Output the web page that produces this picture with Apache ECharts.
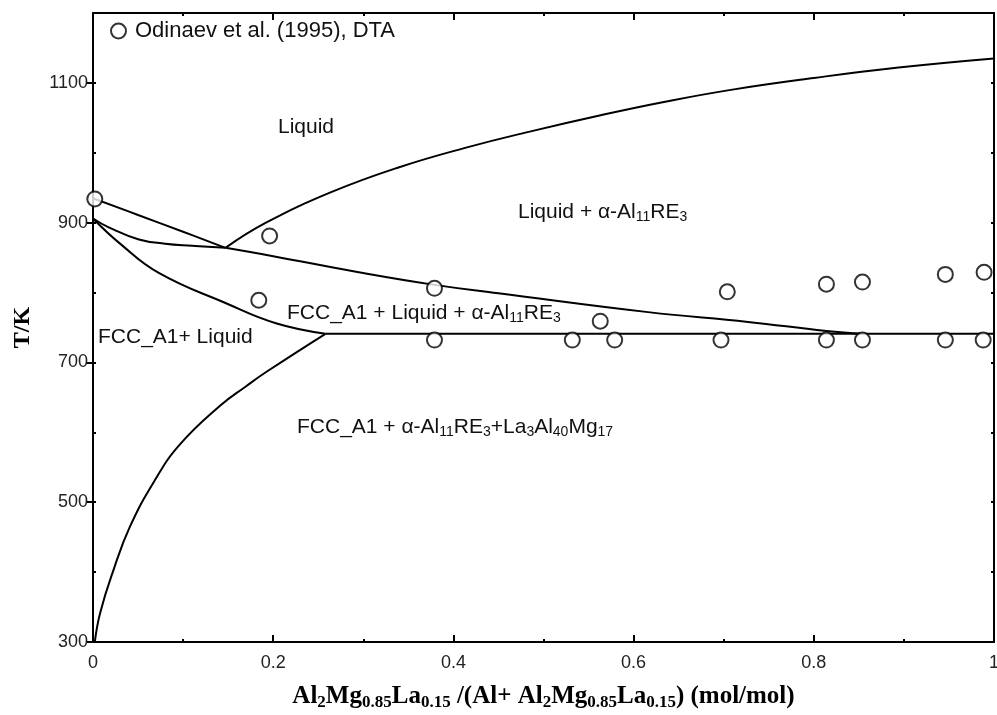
<!DOCTYPE html>
<html>
<head>
<meta charset="utf-8">
<script src="https://cdn.jsdelivr.net/npm/echarts@6/dist/echarts.min.js"></script>
<style>
  html, body { margin: 0; background: #fff; }
  #chart { width: 997px; height: 715px; }
</style>
</head>
<body>
<div id="chart"></div>
<script>
// phase boundaries, [x (mol/mol), T (K)]
const fccLiquidusUpper = [[0, 935], [0.05, 911], [0.1, 887], [0.147, 864]]
const eutecticBranch = [[0, 906], [0.018, 893], [0.051, 876], [0.08, 870], [0.11, 867], [0.147, 864]]
const threePhaseUpper = [[0.147, 864], [0.2, 852], [0.295, 829], [0.379, 811], [0.45, 799],
  [0.616, 772], [0.727, 758], [0.814, 745], [0.855, 741]]
const fccLiquidusLower = [[0, 906], [0.03, 870], [0.073, 828], [0.147, 785], [0.203, 756], [0.258, 741]]
const fccSolvus = [[0.002, 300], [0.008, 342], [0.023, 404], [0.041, 465], [0.068, 530],
  [0.096, 582], [0.141, 638], [0.17, 666], [0.193, 687], [0.258, 741]]
const invariantLine = [[0.258, 741], [1, 741]]
const alphaLiquidus = [[0.147, 864], [0.192, 900], [0.265, 944], [0.339, 979], [0.413, 1007],
  [0.487, 1031], [0.561, 1053], [0.635, 1073], [0.708, 1090], [0.8, 1107], [0.894, 1122], [1, 1135]]

// DTA points (Odinaev et al. 1995)
const dtaX = [0.002, 0.196, 0.184, 0.379, 0.379, 0.532, 0.563, 0.579, 0.697, 0.704,
  0.814, 0.814, 0.854, 0.854, 0.946, 0.946, 0.988, 0.989]
const dtaT = [934, 881, 789, 806, 732, 732, 759, 732, 732, 801,
  732, 812, 732, 815, 732, 826, 732, 829]
const dtaName = 'Odinaev et al. (1995), DTA'

const yMajor = [300, 500, 700, 900, 1100]
const sans = '"Liberation Sans", Arial, sans-serif'
const serif = '"Liberation Serif", "Times New Roman", serif'

const sub = { fontSize: 14, fontFamily: sans, fill: '#111', verticalAlign: 'bottom', lineHeight: 14 }
const regionLabel = (text, left, top) => ({
  type: 'text',
  left,
  top,
  style: {
    text,
    fill: '#111',
    fontSize: 21,
    fontFamily: sans,
    lineHeight: 24,
    rich: { s: sub }
  }
})

const boundary = (data) => ({
  type: 'line',
  data,
  showSymbol: false,
  smooth: 0.45,
  silent: true,
  lineStyle: { color: '#000', width: 2 },
  z: 2
})

const frameLine = { show: true, onZero: false, lineStyle: { color: '#000', width: 2 } }

const chart = echarts.init(document.getElementById('chart'))
chart.setOption({
  animation: false,
  backgroundColor: '#fff',
  grid: { left: 93, right: 3, top: 13, bottom: 73, containLabel: false, outerBoundsMode: 'none' },
  legend: {
    data: [dtaName],
    left: 110,
    top: 20,
    padding: 0,
    itemWidth: 15,
    itemHeight: 15,
    textStyle: { fontSize: 22, fontFamily: sans, color: '#111', padding: [0, 0, 0, 4] }
  },
  xAxis: [
    {
      type: 'value',
      min: 0,
      max: 1,
      interval: 0.2,
      axisLine: frameLine,
      axisTick: { inside: true, length: 7, lineStyle: { color: '#000', width: 2 } },
      minorTick: { show: true, splitNumber: 2, length: 3, lineStyle: { color: '#000', width: 2 } },
      splitLine: { show: false },
      axisLabel: { fontSize: 18, fontFamily: sans, color: '#222', margin: 12 },
      name: 'Al{s|2}Mg{s|0.85}La{s|0.15} /(Al+ Al{s|2}Mg{s|0.85}La{s|0.15}) (mol/mol)',
      nameLocation: 'middle',
      nameGap: 41,
      nameTextStyle: {
        fontSize: 25,
        fontWeight: 'bold',
        fontFamily: serif,
        color: '#000',
        lineHeight: 28,
        rich: {
          s: { fontSize: 17, fontWeight: 'bold', fontFamily: serif, color: '#000', verticalAlign: 'bottom', lineHeight: 17 }
        }
      }
    },
    {
      type: 'value',
      position: 'top',
      min: 0,
      max: 1,
      interval: 0.2,
      axisLine: frameLine,
      axisTick: { inside: true, length: 7, lineStyle: { color: '#000', width: 2 } },
      minorTick: { show: true, splitNumber: 2, length: 3, lineStyle: { color: '#000', width: 2 } },
      splitLine: { show: false },
      axisLabel: { show: false }
    }
  ],
  yAxis: [
    {
      type: 'value',
      min: 300,
      max: 1200,
      interval: 100,
      axisLine: frameLine,
      axisTick: { inside: true, length: 3, lineStyle: { color: '#000', width: 2 } },
      splitLine: { show: false },
      axisLabel: {
        customValues: yMajor,
        formatter: (v) => String(v),
        fontSize: 18,
        fontFamily: sans,
        color: '#222',
        margin: 5
      },
      name: 'T/K',
      nameLocation: 'middle',
      nameGap: 58,
      nameTextStyle: { fontSize: 24, fontWeight: 'bold', fontFamily: serif, color: '#000' }
    },
    {
      type: 'value',
      min: 300,
      max: 1200,
      axisLine: { show: false },
      axisTick: { inside: true, length: 7, customValues: yMajor, lineStyle: { color: '#000', width: 2 } },
      splitLine: { show: false },
      axisLabel: { show: false }
    },
    {
      type: 'value',
      position: 'right',
      min: 300,
      max: 1200,
      interval: 100,
      axisLine: frameLine,
      axisTick: { inside: true, length: 3, lineStyle: { color: '#000', width: 2 } },
      splitLine: { show: false },
      axisLabel: { show: false }
    },
    {
      type: 'value',
      position: 'right',
      min: 300,
      max: 1200,
      axisLine: { show: false },
      axisTick: { inside: true, length: 7, customValues: yMajor, lineStyle: { color: '#000', width: 2 } },
      splitLine: { show: false },
      axisLabel: { show: false }
    }
  ],
  graphic: [
    regionLabel('Liquid', 278, 115),
    regionLabel('Liquid + α-Al{s|11}RE{s|3}', 518, 200),
    regionLabel('FCC_A1 + Liquid + α-Al{s|11}RE{s|3}', 287, 301),
    regionLabel('FCC_A1+ Liquid', 98, 325),
    regionLabel('FCC_A1 + α-Al{s|11}RE{s|3}+La{s|3}Al{s|40}Mg{s|17}', 297, 415)
  ],
  series: [
    boundary(fccLiquidusUpper),
    boundary(eutecticBranch),
    boundary(threePhaseUpper),
    boundary(fccLiquidusLower),
    boundary(fccSolvus),
    boundary(invariantLine),
    boundary(alphaLiquidus),
    {
      name: dtaName,
      type: 'scatter',
      data: dtaX.map((x, i) => [x, dtaT[i]]),
      symbol: 'emptyCircle',
      symbolSize: 15,
      itemStyle: { color: '#000', borderColor: '#000', borderWidth: 2 },
      z: 3
    }
  ]
})
</script>
</body>
</html>
